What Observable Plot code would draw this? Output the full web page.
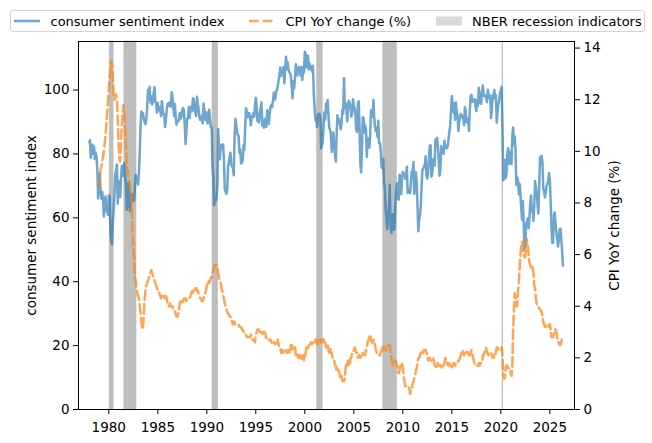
<!DOCTYPE html>
<html>
<head>
<meta charset="utf-8">
<script src="https://cdn.jsdelivr.net/npm/d3@7"></script>
<script src="https://cdn.jsdelivr.net/npm/@observablehq/plot@0.6"></script>
<style>
  body { margin: 0; background: #fff; font-family: "DejaVu Sans", sans-serif; }
  #wrap { width: 652px; height: 443px; position: relative; overflow: hidden; background: #fff; }
  #legend { position: relative; width: 652px; height: 36px; }
  #legend .box { position: absolute; left: 10px; top: 10px; width: 635px; height: 22.3px; box-sizing: border-box;
                 border: 1px solid #d4d4d4; border-radius: 3px; background: #fff; }
  #legend .sw { position: absolute; top: 15.7px; }
  #legend .lt { position: absolute; top: 12.5px; line-height: 17px; font-size: 13px; white-space: nowrap; color: #000; }
  svg { display: block; }
</style>
</head>
<body>
<div id="wrap">
  <div id="legend"><div class="box"></div></div>
  <div id="chart"></div>
</div>
<script>
// ---------------- data ----------------
const seriesNames = ["consumer sentiment index", "CPI YoY change (%)", "NBER recession indicators"];

// University of Michigan consumer sentiment, monthly from 1978-01
const sentimentStart = [1978, 0];
const sentiment = [
  83.7, 84.3, 78.8, 81.6, 82.9, 80.0, 82.4, 78.4, 80.4, 79.3, 75.0, 66.1,
  72.1, 73.9, 68.4, 66.0, 68.1, 65.8, 60.4, 64.5, 66.7, 62.1, 63.3, 61.0,
  67.0, 66.9, 56.5, 52.7, 51.7, 58.7, 62.3, 67.3, 73.7, 75.0, 76.7, 64.5,
  71.4, 66.9, 66.5, 72.4, 76.3, 73.1, 74.1, 77.2, 73.1, 70.3, 62.5, 64.3,
  71.0, 66.5, 62.0, 65.5, 67.5, 65.7, 65.4, 65.4, 69.3, 73.4, 72.1, 71.9,
  70.4, 74.6, 80.8, 89.1, 93.3, 92.2, 92.8, 90.9, 89.9, 89.3, 91.1, 94.2,
  100.1, 97.4, 101.0, 96.1, 98.1, 95.5, 96.6, 99.1, 100.9, 96.3, 95.7, 92.9,
  96.0, 93.7, 93.7, 94.6, 91.8, 96.5, 94.0, 92.4, 92.1, 88.4, 90.9, 93.9,
  95.6, 95.9, 95.1, 96.2, 94.8, 99.3, 97.7, 94.9, 91.9, 95.6, 91.4, 89.1,
  90.4, 90.2, 90.8, 92.8, 91.1, 91.5, 93.7, 94.4, 93.6, 89.3, 83.1, 86.8,
  90.8, 91.6, 94.6, 91.2, 94.8, 94.7, 93.4, 97.4, 97.3, 94.1, 93.0, 91.9,
  97.9, 95.4, 94.3, 91.5, 90.7, 90.6, 92.0, 89.6, 95.8, 93.9, 90.9, 90.5,
  93.0, 89.5, 91.3, 93.9, 90.6, 88.3, 88.2, 76.4, 72.8, 63.9, 66.0, 65.5,
  66.8, 70.4, 87.7, 81.8, 78.3, 82.1, 82.9, 82.0, 83.0, 78.3, 69.1, 68.2,
  67.5, 68.8, 76.0, 77.2, 79.2, 80.4, 76.6, 76.1, 75.6, 73.3, 85.3, 91.0,
  89.3, 86.6, 85.9, 85.6, 80.3, 81.5, 77.0, 77.3, 77.9, 82.7, 81.2, 88.2,
  94.3, 93.2, 91.5, 92.6, 92.8, 91.2, 89.0, 91.7, 91.5, 92.7, 91.6, 95.1,
  97.6, 95.1, 90.3, 92.5, 89.8, 92.7, 94.4, 96.2, 88.9, 90.2, 88.2, 91.0,
  89.3, 88.5, 93.7, 92.7, 89.4, 92.4, 94.7, 95.3, 94.7, 96.5, 99.2, 96.9,
  97.4, 99.7, 100.0, 101.4, 103.2, 104.5, 107.1, 104.4, 106.0, 105.6, 107.2, 102.1,
  106.6, 110.4, 106.5, 108.7, 106.5, 105.6, 105.2, 104.4, 100.9, 97.4, 102.7, 100.5,
  103.9, 108.1, 105.7, 104.6, 106.8, 107.3, 106.0, 104.5, 107.2, 103.2, 107.2, 105.4,
  112.0, 111.3, 107.1, 109.2, 110.7, 106.4, 108.3, 107.3, 106.8, 105.8, 107.6, 98.4,
  94.7, 90.6, 91.5, 88.4, 92.0, 92.6, 92.4, 91.5, 81.8, 82.7, 83.9, 88.8,
  93.0, 90.7, 95.7, 93.0, 96.9, 92.4, 88.1, 87.6, 86.1, 80.6, 84.2, 86.7,
  82.4, 79.9, 77.6, 86.0, 92.1, 89.7, 90.9, 89.3, 87.7, 89.6, 93.7, 92.6,
  103.8, 94.4, 95.8, 94.2, 90.2, 95.6, 96.7, 95.9, 94.2, 91.7, 92.8, 97.1,
  95.5, 94.1, 92.6, 87.7, 86.9, 96.0, 96.5, 89.1, 76.9, 74.2, 81.6, 91.5,
  91.2, 86.7, 88.9, 87.4, 79.1, 84.9, 84.7, 82.0, 85.4, 93.6, 92.1, 91.7,
  96.9, 91.3, 88.4, 87.1, 88.3, 85.3, 90.4, 83.4, 83.4, 80.9, 76.1, 75.5,
  78.4, 70.8, 69.5, 62.6, 59.8, 56.4, 61.2, 63.0, 70.3, 57.6, 55.3, 60.1,
  61.2, 56.3, 57.3, 65.1, 68.7, 70.8, 66.0, 65.7, 73.5, 70.6, 67.4, 72.5,
  74.4, 73.6, 73.6, 72.2, 73.6, 76.0, 67.8, 68.9, 68.2, 67.7, 71.6, 74.5,
  74.2, 77.5, 67.5, 69.8, 74.3, 71.5, 63.7, 55.8, 59.5, 60.8, 63.7, 69.9,
  75.0, 75.3, 76.2, 76.4, 79.3, 73.2, 72.3, 74.3, 78.3, 82.6, 82.7, 72.9,
  73.8, 77.6, 78.6, 76.4, 84.5, 84.1, 85.1, 82.1, 77.5, 73.2, 75.1, 82.5,
  81.2, 81.6, 80.0, 84.1, 81.9, 82.5, 81.8, 82.5, 84.6, 86.9, 88.8, 93.6,
  98.1, 95.4, 93.0, 95.9, 90.7, 96.1, 93.1, 91.9, 87.2, 90.0, 91.3, 92.6,
  92.0, 91.7, 91.0, 89.0, 94.7, 93.5, 90.0, 89.8, 91.2, 87.2, 93.8, 98.2,
  98.5, 96.3, 96.9, 97.0, 97.1, 95.0, 93.4, 96.8, 95.1, 100.7, 98.5, 95.9,
  95.7, 99.7, 101.4, 98.8, 98.0, 98.2, 97.9, 96.2, 100.1, 98.6, 97.5, 98.3,
  91.2, 93.8, 98.4, 97.2, 100.0, 98.2, 98.4, 89.8, 93.2, 95.5, 96.8, 99.3,
  99.8, 101.0, 89.1, 71.8, 72.3, 78.1, 72.5, 74.1, 80.4, 81.8, 76.9, 80.7,
  79.0, 76.8, 84.9, 88.3, 82.9, 85.5, 81.2, 70.3, 72.8, 71.7, 67.4, 70.6,
  67.2, 62.8, 59.4, 65.2, 58.4, 50.0, 51.5, 58.2, 58.6, 59.9, 56.8, 59.7,
  64.9, 67.0, 62.0, 63.5, 59.0, 64.4, 71.5, 69.4, 67.9, 63.8, 61.3, 69.7,
  79.0, 76.9, 79.4, 77.2, 69.1, 68.2, 66.4, 67.9, 70.1, 70.5, 71.8, 74.0,
  71.7, 64.7, 57.0, 52.2, 52.2, 60.7, 61.7, 58.2, 55.1, 53.6, 51.0, 52.9,
  56.4, 56.6, 53.3, 49.8, 45.0
];

// CPI year-over-year change (%), monthly from 1979-01
const cpiStart = [1979, 0];
const cpiYoY = [
  8.6, 8.9, 9.3, 9.4, 9.6, 9.8, 10.0, 10.3, 10.6, 11.0, 11.5, 11.9,
  12.4, 12.8, 13.2, 13.5, 13.4, 12.8, 12.2, 12.0, 12.2, 12.2, 12.0, 11.3,
  10.2, 9.7, 9.6, 10.3, 11.0, 11.5, 11.8, 11.6, 10.9, 10.2, 9.6, 9.2,
  9.0, 8.8, 8.7, 8.5, 8.2, 7.0, 6.3, 5.9, 5.1, 5.0, 4.7, 4.5,
  4.4, 4.3, 4.0, 3.7, 3.4, 3.1, 3.2, 3.7, 4.3, 4.6, 4.8, 4.9,
  5.0, 5.1, 5.2, 5.3, 5.4, 5.3, 5.2, 5.1, 5.0, 4.9, 4.8, 4.7,
  4.6, 4.6, 4.5, 4.4, 4.3, 4.4, 4.4, 4.3, 4.3, 4.4, 4.4, 4.3,
  4.1, 4.0, 4.0, 4.1, 4.0, 4.0, 4.0, 3.9, 3.9, 3.8, 3.7, 3.6,
  3.6, 3.7, 3.9, 4.1, 4.2, 4.1, 4.1, 4.2, 4.3, 4.3, 4.3, 4.2,
  4.3, 4.3, 4.3, 4.3, 4.4, 4.5, 4.6, 4.5, 4.5, 4.6, 4.7, 4.7,
  4.6, 4.6, 4.5, 4.4, 4.3, 4.3, 4.2, 4.2, 4.3, 4.4, 4.5, 4.6,
  4.8, 4.9, 5.0, 4.9, 5.0, 5.1, 5.1, 5.3, 5.4, 5.5, 5.6, 5.6,
  5.6, 5.5, 5.3, 5.1, 5.0, 4.9, 4.7, 4.6, 4.4, 4.3, 4.1, 4.0,
  3.9, 3.8, 3.7, 3.7, 3.6, 3.6, 3.5, 3.4, 3.3, 3.4, 3.4, 3.3,
  3.3, 3.3, 3.3, 3.3, 3.2, 3.2, 3.2, 3.1, 3.1, 3.0, 3.0, 2.9,
  2.9, 2.8, 2.8, 2.8, 2.8, 2.8, 2.9, 2.8, 2.7, 2.7, 2.7, 2.6,
  2.9, 3.0, 3.1, 3.1, 3.1, 3.0, 3.0, 3.0, 2.9, 3.0, 3.0, 3.0,
  2.9, 2.7, 2.7, 2.7, 2.7, 2.7, 2.7, 2.6, 2.6, 2.6, 2.6, 2.6,
  2.5, 2.5, 2.5, 2.7, 2.5, 2.4, 2.4, 2.2, 2.2, 2.3, 2.2, 2.2,
  2.2, 2.3, 2.2, 2.2, 2.3, 2.3, 2.2, 2.5, 2.5, 2.3, 2.3, 2.4,
  2.4, 2.1, 2.1, 2.2, 2.0, 2.1, 2.1, 1.9, 2.0, 2.1, 2.1, 1.9,
  2.0, 2.2, 2.4, 2.3, 2.4, 2.5, 2.5, 2.6, 2.6, 2.5, 2.6, 2.6,
  2.6, 2.7, 2.7, 2.6, 2.5, 2.7, 2.7, 2.7, 2.6, 2.6, 2.8, 2.7,
  2.6, 2.6, 2.4, 2.5, 2.5, 2.3, 2.2, 2.4, 2.2, 2.2, 2.0, 1.9,
  1.9, 1.7, 1.7, 1.5, 1.6, 1.5, 1.5, 1.3, 1.2, 1.3, 1.1, 1.1,
  1.1, 1.2, 1.6, 1.8, 1.7, 1.9, 1.8, 1.7, 2.0, 2.0, 2.2, 2.2,
  2.3, 2.4, 2.3, 2.2, 2.2, 2.0, 2.1, 2.1, 2.0, 2.1, 2.1, 2.2,
  2.1, 2.1, 2.1, 2.3, 2.4, 2.6, 2.7, 2.8, 2.9, 2.7, 2.6, 2.6,
  2.7, 2.7, 2.5, 2.3, 2.2, 2.2, 2.2, 2.1, 2.1, 2.2, 2.3, 2.4,
  2.5, 2.3, 2.4, 2.3, 2.3, 2.4, 2.5, 2.5, 2.5, 2.2, 2.0, 1.8,
  1.7, 1.8, 1.8, 1.9, 1.8, 1.7, 1.5, 1.4, 1.5, 1.7, 1.7, 1.8,
  1.6, 1.3, 1.1, 0.9, 0.9, 0.9, 0.9, 0.9, 0.8, 0.6, 0.8, 0.8,
  1.0, 1.1, 1.2, 1.3, 1.5, 1.6, 1.8, 2.0, 2.0, 2.1, 2.2, 2.2,
  2.3, 2.2, 2.3, 2.3, 2.3, 2.2, 2.1, 1.9, 2.0, 2.0, 1.9, 1.9,
  1.9, 2.0, 1.9, 1.7, 1.7, 1.6, 1.7, 1.8, 1.7, 1.7, 1.7, 1.7,
  1.6, 1.6, 1.7, 1.8, 2.0, 1.9, 1.9, 1.7, 1.7, 1.8, 1.7, 1.6,
  1.6, 1.7, 1.8, 1.8, 1.7, 1.8, 1.8, 1.8, 1.9, 1.9, 2.0, 2.1,
  2.2, 2.3, 2.2, 2.1, 2.2, 2.2, 2.2, 2.3, 2.2, 2.1, 2.1, 2.2,
  2.3, 2.2, 2.0, 1.9, 1.7, 1.7, 1.7, 1.7, 1.7, 1.8, 1.7, 1.8,
  1.8, 1.8, 2.1, 2.1, 2.2, 2.3, 2.4, 2.2, 2.2, 2.1, 2.2, 2.2,
  2.2, 2.1, 2.0, 2.1, 2.0, 2.1, 2.2, 2.4, 2.4, 2.3, 2.3, 2.3,
  2.3, 2.4, 2.1, 1.4, 1.2, 1.2, 1.6, 1.7, 1.7, 1.6, 1.6, 1.6,
  1.4, 1.3, 1.6, 3.0, 3.8, 4.5, 4.3, 4.0, 4.0, 4.6, 4.9, 5.5,
  6.0, 6.4, 6.5, 6.2, 6.0, 5.9, 5.9, 6.3, 6.6, 6.3, 6.0, 5.7,
  5.6, 5.5, 5.6, 5.5, 5.3, 4.8, 4.7, 4.3, 4.1, 4.0, 4.0, 3.9,
  3.9, 3.8, 3.8, 3.6, 3.4, 3.3, 3.2, 3.2, 3.3, 3.3, 3.3, 3.2,
  3.3, 3.1, 2.8, 2.8, 2.8, 2.9, 3.1, 3.1, 3.0, 2.8, 2.6, 2.6,
  2.5, 2.5, 2.6, 2.8, 2.8
];

// NBER recession indicator spans (first and last month flagged)
const recessionStart = ["1980-02", "1981-08", "1990-08", "2001-04", "2008-01", "2020-03"];
const recessionEnd   = ["1980-07", "1982-11", "1991-03", "2001-11", "2009-06", "2020-04"];

// axes
const xTickYears = [1980, 1985, 1990, 1995, 2000, 2005, 2010, 2015, 2020, 2025];
const leftTicks = [0, 20, 40, 60, 80, 100];
const rightTicks = [0, 2, 4, 6, 8, 10, 12, 14];
const leftMax = 115.2;
const rightMax = 14.255;

// ---------------- build ----------------
const month = (y, m) => new Date(Date.UTC(y, m, 1));
const parseMonth = d3.utcParse("%Y-%m");
const sData = sentiment.map((v, i) => ({date: month(sentimentStart[0], sentimentStart[1] + i), value: v}));
const cData = cpiYoY.map((v, i) => ({date: month(cpiStart[0], cpiStart[1] + i), value: v}));
const recessions = recessionStart.map((s, i) => ({start: parseMonth(s), end: parseMonth(recessionEnd[i])}));
const k = leftMax / rightMax;
const xDomain = [new Date(Date.UTC(1976, 10, 29)), new Date(Date.UTC(2027, 6, 8))];

const blue = "#1f77b4", orange = "#ff7f0e";

const chart = Plot.plot({
  width: 652,
  height: 407,
  marginTop: 5,
  marginBottom: 34,
  marginLeft: 78,
  marginRight: 78,
  style: {fontFamily: "DejaVu Sans, sans-serif", fontSize: "13.5px", color: "#000", background: "#fff", overflow: "visible"},
  x: {type: "utc", domain: xDomain},
  y: {domain: [0, leftMax]},
  marks: [
    Plot.rect(recessions, {x1: "start", x2: "end", y1: 0, y2: leftMax, fill: "#bebebe", stroke: "#bebebe", strokeWidth: 0.5}),
    Plot.line(sData, {x: "date", y: "value", stroke: blue, strokeOpacity: 0.65, strokeWidth: 2.5, strokeLinejoin: "round"}),
    Plot.line(cData, {x: "date", y: d => d.value * k, stroke: orange, strokeOpacity: 0.7, strokeWidth: 2.5,
                      strokeDasharray: "9.6,4.2", strokeLinejoin: "round"}),
    Plot.frame({stroke: "#000", strokeWidth: 1}),
    Plot.axisX(xTickYears.map(y => month(y, 0)), {tickSize: 5, tickPadding: 7.5, fontSize: 13.5,
                      tickFormat: d => String(d.getUTCFullYear()), label: null}),
    Plot.axisY(leftTicks, {anchor: "left", tickSize: 5, tickPadding: 4, fontSize: 13.5, label: null}),
    Plot.axisY(rightTicks.map(v => v * k), {anchor: "right", tickSize: 5, tickPadding: 4, fontSize: 13.5,
                      tickFormat: d => String(Math.round(d / k)), label: null}),
    Plot.text([seriesNames[0]], {text: d => d, frameAnchor: "left", textAnchor: "middle", lineAnchor: "middle",
                      dx: -47, rotate: -90, fontSize: 13.5}),
    Plot.text([seriesNames[1]], {text: d => d, frameAnchor: "right", textAnchor: "middle", lineAnchor: "middle",
                      dx: 40, rotate: -90, fontSize: 13.5})
  ]
});
document.getElementById("chart").appendChild(chart);

// ---------------- legend ----------------
const legend = document.getElementById("legend");
const legendItems = [
  {name: seriesNames[0], x: 14, textX: 50.5, kind: "line"},
  {name: seriesNames[1], x: 249, textX: 285.5, kind: "dash"},
  {name: seriesNames[2], x: 436, textX: 472, kind: "patch"}
];
const NS = "http://www.w3.org/2000/svg";
for (const it of legendItems) {
  const sw = document.createElementNS(NS, "svg");
  sw.setAttribute("class", "sw");
  sw.setAttribute("width", 27);
  sw.setAttribute("height", 10);
  sw.style.left = it.x + "px";
  if (it.kind === "patch") {
    const r = document.createElementNS(NS, "rect");
    r.setAttribute("x", 0); r.setAttribute("y", 0.5);
    r.setAttribute("width", 26); r.setAttribute("height", 9);
    r.setAttribute("fill", "#d9d9d9");
    sw.appendChild(r);
  } else {
    const l = document.createElementNS(NS, "line");
    l.setAttribute("x1", 0); l.setAttribute("x2", 26);
    l.setAttribute("y1", 5); l.setAttribute("y2", 5);
    l.setAttribute("stroke", it.kind === "line" ? blue : orange);
    l.setAttribute("stroke-opacity", it.kind === "line" ? 0.65 : 0.7);
    l.setAttribute("stroke-width", 2.6);
    if (it.kind === "dash") l.setAttribute("stroke-dasharray", "9.6,4.2");
    sw.appendChild(l);
  }
  legend.appendChild(sw);
  const t = document.createElement("span");
  t.className = "lt";
  t.style.left = it.textX + "px";
  t.textContent = it.name;
  legend.appendChild(t);
}
</script>
</body>
</html>
